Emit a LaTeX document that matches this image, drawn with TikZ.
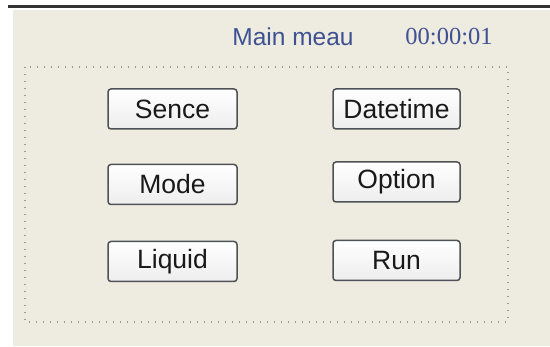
\documentclass[tikz,border=0pt]{standalone}
\usepackage{fontspec}
\setmainfont{Liberation Sans}
\newfontfamily\timesf{Liberation Serif}
\definecolor{panelbg}{HTML}{EEEBE0}
\definecolor{titleblue}{HTML}{3F5192}
\definecolor{btnborder}{HTML}{4E5256}
\tikzset{
  btn/.style={draw=btnborder, line width=1.5pt, rounded corners=3pt,
    top color=white, bottom color=gray!14, minimum height=40pt,
    inner sep=0pt, font=\fontsize{26.5}{26.5}\selectfont, text=black!90},
  ttl/.style={text=titleblue, inner sep=0pt, anchor=center},
}
\begin{document}
\begin{tikzpicture}[x=1pt,y=-1pt]
\useasboundingbox (0,0) rectangle (550,347);
\fill[white] (0,0) rectangle (550,347);
\fill[panelbg] (13,10) rectangle (550,346);
\draw[line width=3pt, black!80] (8,7) -- (550,7);
\draw[gray!80, line width=1.1pt, dash pattern=on 1.2pt off 5.8pt] (25,67) rectangle (508,322);
\node[ttl, font=\fontsize{24.5}{24.5}\selectfont] (title) at (293,37) {Main meau};
\node[ttl, font=\timesf\fontsize{24.5}{24.5}\selectfont] (clock) at (449,37) {00:00:01};
\node[btn, minimum width=129pt] (sence) at (172.5,109) {Sence};
\node[btn, minimum width=129pt] (mode) at (172.5,184.5) {Mode};
\node[btn, minimum width=129pt] (liquid) at (172.5,261.5) {Liquid};
\node[btn, minimum width=127pt] (datetime) at (396.5,109) {Datetime};
\node[btn, minimum width=127pt] (option) at (396.5,182) {Option};
\node[btn, minimum width=127pt] (run) at (396.5,260.5) {Run};
\end{tikzpicture}
\end{document}
